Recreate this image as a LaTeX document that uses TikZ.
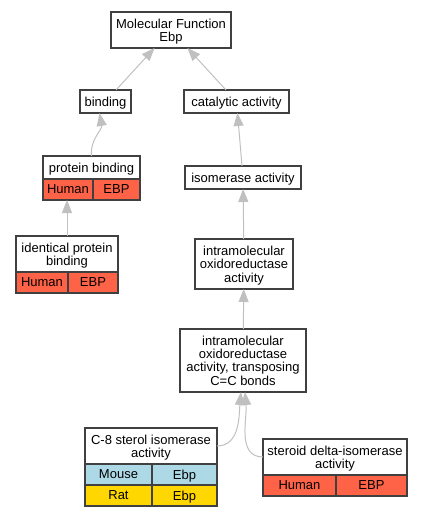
\documentclass[tikz,border=0pt]{standalone}
\usepackage{fontspec}
\setmainfont{Liberation Sans}
\usetikzlibrary{arrows.meta}

\definecolor{tomato}{HTML}{FF6347}
\definecolor{lblue}{HTML}{ADD8E6}
\definecolor{gold}{HTML}{FFD700}
\definecolor{edgegray}{HTML}{C0C0C0}
\definecolor{boxline}{HTML}{404040}

\tikzset{
  term/.style={draw=boxline, line width=1.2pt, fill=white, inner sep=0pt, outer sep=0pt,
    anchor=north west, align=center, text depth=0pt, font=\fontsize{13}{13.3}\selectfont},
  human/.style={term, fill=tomato},
  mouse/.style={term, fill=lblue},
  rat/.style={term, fill=gold},
  isa/.style={draw=edgegray, line width=1pt, -{Triangle[length=13pt,width=10pt]}}
}

\begin{document}
\begin{tikzpicture}[x=1pt,y=-1pt]
  \useasboundingbox (0,0) rectangle (423,517);

  % top of the tree
  \node[term, minimum width=120, minimum height=36] (mf) at (111,12) {Molecular Function\\Ebp};
  \node[term, minimum width=51, minimum height=23] (binding) at (80,90) {binding};
  \node[term, minimum width=105, minimum height=23] (catalytic) at (184,90) {catalytic activity};

  % binding branch
  \node[term, minimum width=97, minimum height=23] (pb) at (43,156) {protein binding};
  \node[human, minimum width=50, minimum height=21] (pbHuman) at (43,179) {Human};
  \node[human, minimum width=47, minimum height=21] (pbEBP) at (93,179) {EBP};

  \node[term, minimum width=102, minimum height=36] (ipb) at (16,236) {identical protein\\binding};
  \node[human, minimum width=52, minimum height=21] (ipbHuman) at (16,272) {Human};
  \node[human, minimum width=50, minimum height=21] (ipbEBP) at (68,272) {EBP};

  % catalytic branch
  \node[term, minimum width=116, minimum height=23] (isomerase) at (185,166) {isomerase activity};
  \node[term, minimum width=98, minimum height=50] (intra) at (195,239) {intramolecular\\oxidoreductase\\activity};
  \node[term, minimum width=126, minimum height=63] (cc) at (180,329) {intramolecular\\oxidoreductase\\activity, transposing\\C=C bonds};

  \node[term, minimum width=132, minimum height=36] (c8) at (85,428) {C-8 sterol isomerase\\activity};
  \node[mouse, minimum width=67, minimum height=21] (c8Mouse) at (85,464) {Mouse};
  \node[mouse, minimum width=65, minimum height=21] (c8MouseEbp) at (152,464) {Ebp};
  \node[rat, minimum width=67, minimum height=21] (c8Rat) at (85,485) {Rat};
  \node[rat, minimum width=65, minimum height=21] (c8RatEbp) at (152,485) {Ebp};

  \node[term, minimum width=144, minimum height=36] (sd) at (263,439) {steroid delta-isomerase\\activity};
  \node[human, minimum width=73, minimum height=21] (sdHuman) at (263,475) {Human};
  \node[human, minimum width=71, minimum height=21] (sdEBP) at (336,475) {EBP};

  % is_a edges
  \draw[isa] (binding) -- (mf);
  \draw[isa] (catalytic) -- (mf);
  \draw[isa] (pb.north) to[out=95,in=-80] ([xshift=-6pt]binding.south);
  \draw[isa] (ipb.north) -- (ipb.north |- pbHuman.south);
  \draw[isa] (isomerase) -- (catalytic);
  \draw[isa] (intra) -- (isomerase);
  \draw[isa] (cc) -- (intra);
  \draw[isa] (c8.east) to[out=0,in=-95] ([xshift=-2pt]cc.south);
  \draw[isa] (sd.west) to[out=180,in=-85] ([xshift=2pt]cc.south);
\end{tikzpicture}
\end{document}
